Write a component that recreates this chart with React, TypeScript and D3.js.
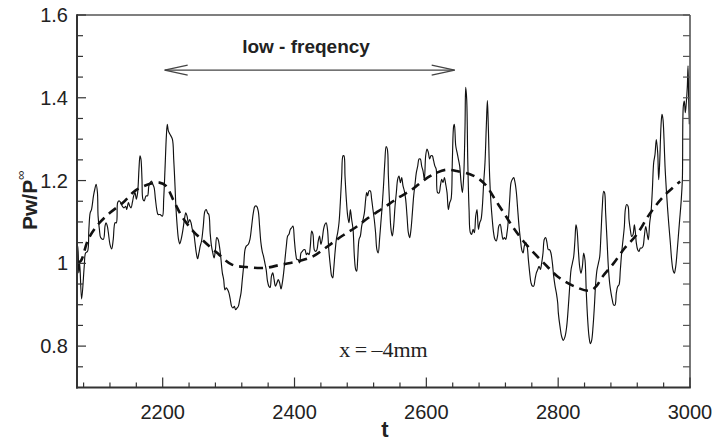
import React from "react";
import * as d3 from "d3";

// ---------- data ----------
const signal: [number, number][] = [
  [2070, 1.04], [2071, 1.042], [2072.6, 0.977], [2074, 1.001], [2077, 0.914], [2081, 0.993], [2083, 1.025],
  [2086, 1.029], [2088, 1.082], [2090, 1.122], [2092, 1.13], [2095, 1.163], [2097, 1.179], [2099, 1.191],
  [2101, 1.171], [2102, 1.114], [2104, 1.082], [2106, 1.062], [2110, 1.058], [2112.5, 1.09], [2114, 1.098],
  [2116, 1.09], [2117.6, 1.074], [2120, 1.046], [2122.6, 1.035], [2125, 1.058], [2127.7, 1.098], [2129.7, 1.098],
  [2131.7, 1.147], [2133.8, 1.151], [2136.3, 1.147], [2138.8, 1.138], [2141.3, 1.134], [2143.9, 1.138],
  [2145.4, 1.13], [2148, 1.147], [2150, 1.138], [2152, 1.134], [2154, 1.147], [2156, 1.163], [2158, 1.171],
  [2160, 1.155], [2162, 1.171], [2164, 1.227], [2165.6, 1.26], [2167, 1.252], [2168.6, 1.203], [2170, 1.155],
  [2172, 1.151], [2174.7, 1.163], [2177, 1.163], [2179, 1.187], [2181, 1.195], [2183, 1.199], [2185, 1.191],
  [2187, 1.183], [2189, 1.155], [2191, 1.13], [2193, 1.118], [2196, 1.118], [2199.5, 1.114], [2201.5, 1.155],
  [2203.5, 1.227], [2205.6, 1.308], [2207, 1.336], [2208.6, 1.32], [2211, 1.312], [2214.7, 1.3], [2216.7, 1.252],
  [2218.7, 1.187], [2220, 1.138], [2222, 1.09], [2224, 1.058], [2226, 1.047], [2228, 1.058], [2230, 1.074],
  [2233, 1.106], [2235, 1.122], [2237, 1.114], [2239, 1.098], [2241, 1.106], [2243, 1.098], [2245, 1.082],
  [2247, 1.074], [2249, 1.05], [2251, 1.025], [2253, 1.011], [2255, 1.025], [2257, 1.042], [2259, 1.054],
  [2261.6, 1.09], [2264, 1.126], [2266, 1.13], [2268, 1.122], [2270, 1.118], [2272, 1.074], [2274, 1.042],
  [2276, 1.025], [2278, 1.013], [2280, 1.033], [2282, 1.062], [2284, 1.058], [2286, 1.042], [2288, 1.017],
  [2290.5, 0.977], [2292.5, 0.961], [2294.5, 0.936], [2296.5, 0.941], [2298.6, 0.936], [2300.6, 0.928],
  [2302.6, 0.912], [2304.6, 0.896], [2306.6, 0.892], [2308.7, 0.896], [2310.7, 0.888], [2312.7, 0.892],
  [2314.7, 0.896], [2316.8, 0.912], [2318.8, 0.928], [2320.8, 0.961], [2322.8, 0.993], [2324.9, 1.033],
  [2327, 1.042], [2330, 1.046], [2332.4, 1.058], [2335, 1.09], [2337.5, 1.122], [2340, 1.138], [2342.6, 1.138],
  [2345, 1.126], [2347, 1.09], [2349, 1.05], [2351, 1.029], [2353, 1.017], [2355, 1.001], [2357, 0.985],
  [2359, 0.957], [2361, 0.945], [2363, 0.942], [2365, 0.969], [2367, 0.977], [2369, 0.961], [2371, 0.945],
  [2373.4, 0.953], [2375.4, 0.961], [2377.4, 0.953], [2379.5, 0.938], [2381.5, 0.953], [2383.5, 0.977],
  [2385.5, 1.009], [2387.6, 1.042], [2389.6, 1.066], [2391.6, 1.07], [2393.6, 1.082], [2395.7, 1.086],
  [2397.7, 1.09], [2399.7, 1.058], [2401.7, 1.025], [2403.7, 1.009], [2405.8, 1.009], [2407.8, 1.001],
  [2409.8, 1.025], [2411.8, 1.029], [2413.9, 1.033], [2415.9, 1.033], [2418, 1.021], [2420, 1.025],
  [2422, 1.021], [2424, 1.042], [2426, 1.078], [2428, 1.07], [2430, 1.033], [2432, 1.029], [2434, 1.033],
  [2436, 1.054], [2438, 1.066], [2440, 1.046], [2442, 1.058], [2444, 1.082], [2446, 1.094], [2448, 1.098],
  [2450, 1.082], [2452, 1.033], [2454.4, 0.993], [2456.4, 0.969], [2458, 0.965], [2459.4, 0.985],
  [2461.4, 1.025], [2463.5, 1.058], [2465.5, 1.074], [2467.5, 1.098], [2469.5, 1.147], [2471.6, 1.211],
  [2473.6, 1.26], [2475, 1.26], [2476.6, 1.211], [2478.6, 1.155], [2480.7, 1.114], [2482.7, 1.098],
  [2484.7, 1.13], [2486.7, 1.106], [2488.8, 1.082], [2490.8, 1.017], [2492.8, 0.985], [2494.3, 0.981],
  [2495.8, 1.009], [2497.9, 1.058], [2499.9, 1.066], [2501.9, 1.09], [2504, 1.106], [2506, 1.122],
  [2508, 1.155], [2509.5, 1.171], [2511, 1.163], [2513, 1.175], [2515, 1.175], [2517, 1.155], [2519, 1.13],
  [2521, 1.106], [2523, 1.074], [2525, 1.033], [2527, 1.025], [2529, 1.058], [2531, 1.098], [2533, 1.138],
  [2535, 1.187], [2537, 1.244], [2539, 1.282], [2540.8, 1.276], [2542.4, 1.211], [2544.4, 1.138],
  [2546.4, 1.082], [2548.4, 1.066], [2550.4, 1.09], [2552.5, 1.138], [2554.5, 1.171], [2556.5, 1.203],
  [2558.5, 1.211], [2560.6, 1.195], [2562.6, 1.207], [2564.6, 1.187], [2566.6, 1.175], [2568.6, 1.155],
  [2570.7, 1.114], [2572.7, 1.074], [2574.7, 1.062], [2576.7, 1.082], [2578.8, 1.122], [2580.8, 1.163],
  [2582.8, 1.191], [2584.8, 1.219], [2586.9, 1.235], [2588.9, 1.252], [2590.9, 1.252], [2592.9, 1.235],
  [2595, 1.223], [2597, 1.203], [2599, 1.26], [2601, 1.276], [2603, 1.268], [2605, 1.252], [2607, 1.26],
  [2609, 1.26], [2611, 1.248], [2613, 1.235], [2615, 1.227], [2617, 1.171], [2619.3, 1.17], [2621.3, 1.187],
  [2623.3, 1.203], [2625.3, 1.195], [2627.4, 1.207], [2629.4, 1.191], [2631.4, 1.171], [2633.4, 1.13],
  [2635.5, 1.147], [2637.5, 1.155], [2639.5, 1.252], [2641.5, 1.332], [2642.5, 1.336], [2644.6, 1.284],
  [2646.6, 1.268], [2648.6, 1.252], [2650.6, 1.235], [2652.7, 1.195], [2654.7, 1.171], [2656.7, 1.211],
  [2658.7, 1.332], [2659.7, 1.425], [2661.2, 1.397], [2662.8, 1.252], [2664.8, 1.13], [2666.8, 1.074],
  [2668.8, 1.07], [2670.9, 1.082], [2672.9, 1.074], [2674.9, 1.114], [2676.9, 1.13], [2679, 1.082],
  [2681, 1.098], [2683, 1.106], [2685, 1.138], [2687, 1.195], [2689, 1.244], [2691, 1.332], [2692.6, 1.393],
  [2694, 1.332], [2696, 1.211], [2698, 1.147], [2700, 1.106], [2702, 1.074], [2704, 1.058], [2706, 1.054],
  [2708, 1.066], [2710, 1.09], [2712, 1.094], [2714.3, 1.074], [2716.4, 1.058], [2718.4, 1.062],
  [2720.4, 1.058], [2722.4, 1.074], [2724.5, 1.106], [2726.5, 1.155], [2728.5, 1.195], [2730.5, 1.203],
  [2732.5, 1.207], [2734.6, 1.195], [2736.6, 1.171], [2738.6, 1.13], [2740.6, 1.09], [2742.7, 1.058],
  [2744.7, 1.033], [2746.7, 1.025], [2748.7, 1.042], [2750.8, 1.05], [2752.8, 1.042], [2754.8, 1.009],
  [2756.8, 0.977], [2758.8, 0.953], [2760.9, 0.945], [2762.9, 0.945], [2764.9, 0.961], [2766.9, 0.977],
  [2769, 0.985], [2771, 0.993], [2773, 0.985], [2775, 1.001], [2777, 1.025], [2779, 1.058], [2781, 1.062],
  [2783, 1.05], [2785, 1.033], [2787, 1.033], [2789, 1.025], [2791.2, 1.001], [2793.2, 0.969],
  [2795.3, 0.945], [2797.3, 0.928], [2799.3, 0.904], [2800.3, 0.879], [2802.8, 0.847], [2805.3, 0.823],
  [2807.8, 0.814], [2810.4, 0.823], [2812.9, 0.847], [2815.4, 0.895], [2817.5, 0.944], [2819.5, 0.984],
  [2821.5, 1.0], [2823.5, 1.016], [2825.5, 1.057], [2827, 1.093], [2828.6, 1.081], [2830.6, 1.033],
  [2832.6, 0.992], [2834.6, 0.976], [2836.7, 0.992], [2838.7, 1.025], [2840.7, 1.008], [2842.7, 0.928],
  [2844.8, 0.863], [2846.8, 0.823], [2848.8, 0.806], [2850.8, 0.814], [2852.9, 0.847], [2854.9, 0.895],
  [2856.9, 0.952], [2858.9, 0.984], [2861, 1.0], [2863, 1.016], [2865, 1.073], [2867, 1.138], [2869, 1.174],
  [2870.5, 1.17], [2872, 1.122], [2874.1, 1.057], [2876.1, 0.992], [2878.1, 0.952], [2880.2, 0.928],
  [2882.2, 0.911], [2884.2, 0.899], [2886.2, 0.899], [2888.2, 0.928], [2890.3, 0.944], [2892.3, 0.948],
  [2894.3, 0.984], [2896.3, 1.025], [2898.4, 1.057], [2900.4, 1.089], [2901.9, 1.13], [2903.9, 1.142],
  [2906, 1.138], [2907.5, 1.105], [2909.5, 1.081], [2911.5, 1.065], [2913.5, 1.069], [2915.6, 1.093],
  [2917, 1.077], [2918.6, 1.049], [2920.6, 1.033], [2922.6, 1.029], [2924.7, 1.037], [2926.7, 1.037],
  [2928.7, 1.041], [2930.7, 1.065], [2932.8, 1.089], [2934.8, 1.073], [2936.8, 1.057], [2938.8, 1.097],
  [2940.8, 1.122], [2942.9, 1.178], [2944.9, 1.243], [2946.9, 1.263], [2948.9, 1.299], [2951, 1.267],
  [2952.5, 1.202], [2954, 1.243], [2956, 1.332], [2957.5, 1.36], [2959, 1.348], [2960.6, 1.299],
  [2962.1, 1.235], [2964.1, 1.178], [2966.1, 1.13], [2968.1, 1.089], [2970.2, 1.049], [2972.2, 1.008],
  [2974.2, 0.984], [2976.2, 0.976], [2978.3, 0.992], [2980.3, 1.025], [2982.3, 1.065], [2984.3, 1.105],
  [2986.4, 1.146], [2988.4, 1.202], [2989.9, 1.38], [2991.4, 1.392], [2992.9, 1.364], [2994.4, 1.388],
  [2996, 1.429], [2997, 1.477], [2998, 1.396], [2999, 1.336],
];

const trend: [number, number][] = [
  [2071, 1.0], [2076, 1.006], [2087, 1.058], [2102, 1.094], [2120, 1.122], [2140, 1.147], [2158, 1.175],
  [2181, 1.192], [2195, 1.195], [2205, 1.187], [2217, 1.15], [2229, 1.114], [2246, 1.078], [2262, 1.054],
  [2282, 1.026], [2305, 0.997], [2327, 0.991], [2355, 0.989], [2380, 0.997], [2406, 1.005], [2428, 1.017],
  [2451, 1.042], [2472, 1.066], [2492, 1.086], [2512, 1.11], [2535, 1.134], [2557, 1.158], [2578, 1.178],
  [2598, 1.203], [2616, 1.219], [2630, 1.226], [2646, 1.223], [2671, 1.212], [2689, 1.191], [2704, 1.155],
  [2719, 1.118], [2732, 1.086], [2747, 1.054], [2765, 1.022], [2783, 0.993], [2800, 0.967], [2825, 0.944],
  [2848, 0.934], [2858, 0.945], [2866, 0.965], [2884, 1.0], [2901, 1.037], [2919, 1.069], [2939, 1.12],
  [2960, 1.162], [2985, 1.198],
];

const xMajorTicks = [2200, 2400, 2600, 2800, 3000];
const xMinorStep = 40;
const yMajorTicks = [0.8, 1.0, 1.2, 1.4, 1.6];
const yMinorStep = 0.05;
const arrowSpan = [2203, 2643];
const arrowLevel = 1.467;

const W = 713;
const H = 443;
const left = 77;
const right = 690;
const top = 15;
const bottom = 387.5;

export default function App() {
  const x = d3.scaleLinear().domain([2070, 3000]).range([left, right]);
  const y = d3.scaleLinear().domain([0.7, 1.6]).range([bottom, top]);

  const line = d3
    .line<[number, number]>()
    .x((d) => x(d[0]))
    .y((d) => y(d[1]))
    .curve(d3.curveCatmullRom.alpha(0.5));

  const xMinor = d3.range(2080, 3000.1, xMinorStep);
  const yMinor = d3.range(0.75, 1.6001, yMinorStep);

  const sans = "'Liberation Sans', Arial, Helvetica, sans-serif";
  const ax1 = x(arrowSpan[0]);
  const ax2 = x(arrowSpan[1]);
  const ay = y(arrowLevel);

  return (
    <svg
      width={W}
      height={H}
      style={{ position: "absolute", left: 0, top: 0, background: "#fff" }}
    >
      <rect x={0} y={0} width={W} height={H} fill="#fff" />
      {/* curves */}
      <path d={line(trend) || ""} fill="none" stroke="#111" strokeWidth={2.6} strokeDasharray="9,6" />
      <path d={line(signal) || ""} fill="none" stroke="#111" strokeWidth={1.15} strokeLinejoin="round" />

      {/* frame */}
      <line x1={left} x2={right} y1={top} y2={top} stroke="#555" strokeWidth={1.5} />
      <line x1={right} x2={right} y1={top} y2={bottom} stroke="#555" strokeWidth={1.6} />
      <line x1={left} x2={left} y1={top - 0.75} y2={bottom + 1} stroke="#333" strokeWidth={2} />
      <line x1={left - 1} x2={right + 0.8} y1={bottom} y2={bottom} stroke="#333" strokeWidth={2} />

      {/* x ticks */}
      {xMinor.map((t) => {
        const major = xMajorTicks.some((m) => Math.abs(m - t) < 1e-6);
        return (
          <line key={"xt" + t} x1={x(t)} x2={x(t)} y1={bottom} y2={bottom - (major ? 10 : 5)} stroke="#333" strokeWidth={1.2} />
        );
      })}
      {xMajorTicks.map((t) => (
        <text key={"xl" + t} x={x(t)} y={419} textAnchor="middle" fontFamily={sans} fontSize={20} fill="#222">
          {t}
        </text>
      ))}

      {/* y ticks */}
      {yMinor.map((v) => {
        const major = yMajorTicks.some((m) => Math.abs(m - v) < 1e-6);
        return (
          <g key={"yt" + v.toFixed(2)}>
            <line x1={left} x2={left + (major ? 9 : 6)} y1={y(v)} y2={y(v)} stroke="#333" strokeWidth={1.2} />
            <line x1={right} x2={right - 7} y1={y(v)} y2={y(v)} stroke="#555" strokeWidth={1.2} />
          </g>
        );
      })}
      {yMajorTicks.map((v) => (
        <text key={"yl" + v} x={68} y={y(v) + 7} textAnchor="end" fontFamily={sans} fontSize={20} fill="#222">
          {d3.format("")(+v.toFixed(1))}
        </text>
      ))}

      {/* axis titles */}
      <text x={385} y={437} textAnchor="middle" fontFamily={sans} fontSize={22} fontWeight="bold" fill="#222">
        t
      </text>
      <text transform="translate(37,230) rotate(-90)" fontFamily={sans} fill="#222">
        <tspan fontSize={21} fontWeight="bold">Pw/P</tspan>
        <tspan fontSize={13} dy={-12}>∞</tspan>
      </text>

      {/* annotation */}
      <text x={306} y={53} textAnchor="middle" fontFamily={sans} fontSize={19} fontWeight="bold" fill="#222">
        low - freqency
      </text>
      <g stroke="#444" strokeWidth={1.3} fill="none">
        <line x1={ax1} x2={ax2} y1={ay} y2={ay} />
        <polyline points={`${ax1 + 23},${ay - 5} ${ax1},${ay} ${ax1 + 23},${ay + 5}`} />
        <polyline points={`${ax2 - 23},${ay - 5} ${ax2},${ay} ${ax2 - 23},${ay + 5}`} />
      </g>
      <text x={383.5} y={357} textAnchor="middle" fontFamily="'Liberation Serif', 'Times New Roman', serif" fontSize={22} fill="#222">
        x{"\u2009"}={"\u2009"}–4mm
      </text>
    </svg>
  );
}
